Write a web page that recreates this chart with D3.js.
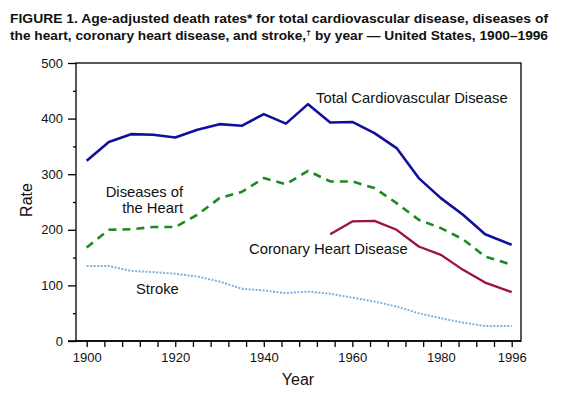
<!DOCTYPE html>
<html>
<head>
<meta charset="utf-8">
<script src="https://cdn.jsdelivr.net/npm/d3@7"></script>
<style>
  body { margin: 0; background: #fff; }
  text { font-family: "Liberation Sans", Arial, Helvetica, sans-serif; fill: #111; }
</style>
</head>
<body>
<script>
// years
var years = [1900, 1905, 1910, 1915, 1920, 1925, 1930, 1935, 1940, 1945, 1950,
             1955, 1960, 1965, 1970, 1975, 1980, 1985, 1990, 1996];
var chdYears = [1955, 1960, 1965, 1970, 1975, 1980, 1985, 1990, 1996];

var totalCvd = [324, 358, 372, 371, 366, 380, 390, 387, 408, 391, 426,
                393, 394, 374, 347, 293, 257, 227, 192, 173];
var heartDis = [168, 200, 201, 205, 205, 227, 257, 268, 293, 282, 306,
                287, 287, 275, 248, 218, 203, 183, 152, 137];
var chd      = [192, 215, 216, 200, 170, 155, 128, 105, 88];
var stroke   = [135, 135, 126, 124, 121, 116, 107, 94, 91, 86, 89,
                85, 78, 71, 62, 50, 41, 33, 27, 27];

var xLabels = [1900, 1920, 1940, 1960, 1980, 1996];
var yLabels = [0, 100, 200, 300, 400, 500];

var width = 561, height = 398;

var svg = d3.select("body").append("svg")
    .attr("width", width)
    .attr("height", height);

// title
var title = svg.append("g").attr("font-weight", "bold").attr("font-size", 12);
title.append("text")
    .attr("x", 10).attr("y", 23)
    .attr("textLength", 538).attr("lengthAdjust", "spacingAndGlyphs")
    .text("FIGURE 1. Age-adjusted death rates* for total cardiovascular disease, diseases of");
var t2 = title.append("text")
    .attr("x", 10).attr("y", 40)
    .attr("textLength", 538).attr("lengthAdjust", "spacingAndGlyphs");
t2.append("tspan").text("the heart, coronary heart disease, and stroke,");
t2.append("tspan").attr("font-size", 8).attr("dy", -5).text("\u2020");
t2.append("tspan").attr("dy", 5).text(" by year \u2014 United States, 1900\u20131996");

var x = d3.scaleLinear().domain([1900, 1996]).range([86.7, 511.7]);
var y = d3.scaleLinear().domain([0, 500]).range([341, 63]);

var pLeft = 76, pRight = 521, pTop = 63, pBottom = 341;

// frame
svg.append("rect")
    .attr("x", pLeft).attr("y", pTop)
    .attr("width", pRight - pLeft).attr("height", pBottom - pTop)
    .attr("fill", "none").attr("stroke", "#000").attr("stroke-width", 1.3);

// y axis
var yAxis = d3.axisLeft(y)
    .tickValues(d3.range(0, 501, 50))
    .tickSize(8)
    .tickPadding(5)
    .tickFormat(function(d) { return yLabels.indexOf(d) >= 0 ? d : ""; });
var gy = svg.append("g")
    .attr("transform", "translate(" + pLeft + ",0)")
    .call(yAxis);
gy.select(".domain").remove();
gy.selectAll(".tick line")
    .attr("stroke-width", 1.3)
    .attr("x2", function(d) { return d % 100 === 0 ? -8 : -3; });
gy.selectAll(".tick text").attr("font-size", 13).attr("font-family", null).style("fill", "#111");

// x axis
var xAxis = d3.axisBottom(x)
    .tickValues(d3.range(1900, 1997, 4))
    .tickSize(6)
    .tickPadding(6)
    .tickFormat(function(d) { return xLabels.indexOf(d) >= 0 ? d : ""; });
var gx = svg.append("g")
    .attr("transform", "translate(0," + pBottom + ")")
    .call(xAxis);
gx.select(".domain").remove();
gx.selectAll(".tick line").attr("stroke-width", 1.3);
gx.selectAll(".tick text").attr("font-size", 13).attr("font-family", null).style("fill", "#111");
svg.append("line")
    .attr("x1", 68).attr("x2", pRight)
    .attr("y1", pBottom).attr("y2", pBottom)
    .attr("stroke", "#000").attr("stroke-width", 1.3);

// axis titles
svg.append("text")
    .attr("transform", "translate(32,200) rotate(-90)")
    .attr("text-anchor", "middle")
    .attr("font-size", 16)
    .text("Rate");
svg.append("text")
    .attr("x", 298).attr("y", 385)
    .attr("text-anchor", "middle")
    .attr("font-size", 16)
    .text("Year");

// lines
function addLine(xs, vals, color, w, dash) {
  var line = d3.line()
      .x(function(d, i) { return x(xs[i]); })
      .y(function(d) { return y(d); });
  svg.append("path")
      .attr("d", line(vals))
      .attr("fill", "none")
      .attr("stroke", color)
      .attr("stroke-width", w)
      .attr("stroke-dasharray", dash)
      .attr("stroke-linejoin", "round");
}

addLine(years, stroke, "#7fb0dc", 2, "2,1.5");
addLine(chdYears, chd, "#99143f", 2.3, null);
addLine(years, heartDis, "#1e8a1e", 2.6, "8,6");
addLine(years, totalCvd, "#10109c", 2.6, null);

// series labels
var lab = svg.append("g").attr("font-size", 14.8);
lab.append("text").attr("x", 316).attr("y", 103).text("Total Cardiovascular Disease");
lab.append("text").attr("x", 183).attr("y", 197).attr("text-anchor", "end").text("Diseases of");
lab.append("text").attr("x", 183).attr("y", 213).attr("text-anchor", "end").text("the Heart");
lab.append("text").attr("x", 249).attr("y", 254).text("Coronary Heart Disease");
lab.append("text").attr("x", 136).attr("y", 294).text("Stroke");
</script>
</body>
</html>
